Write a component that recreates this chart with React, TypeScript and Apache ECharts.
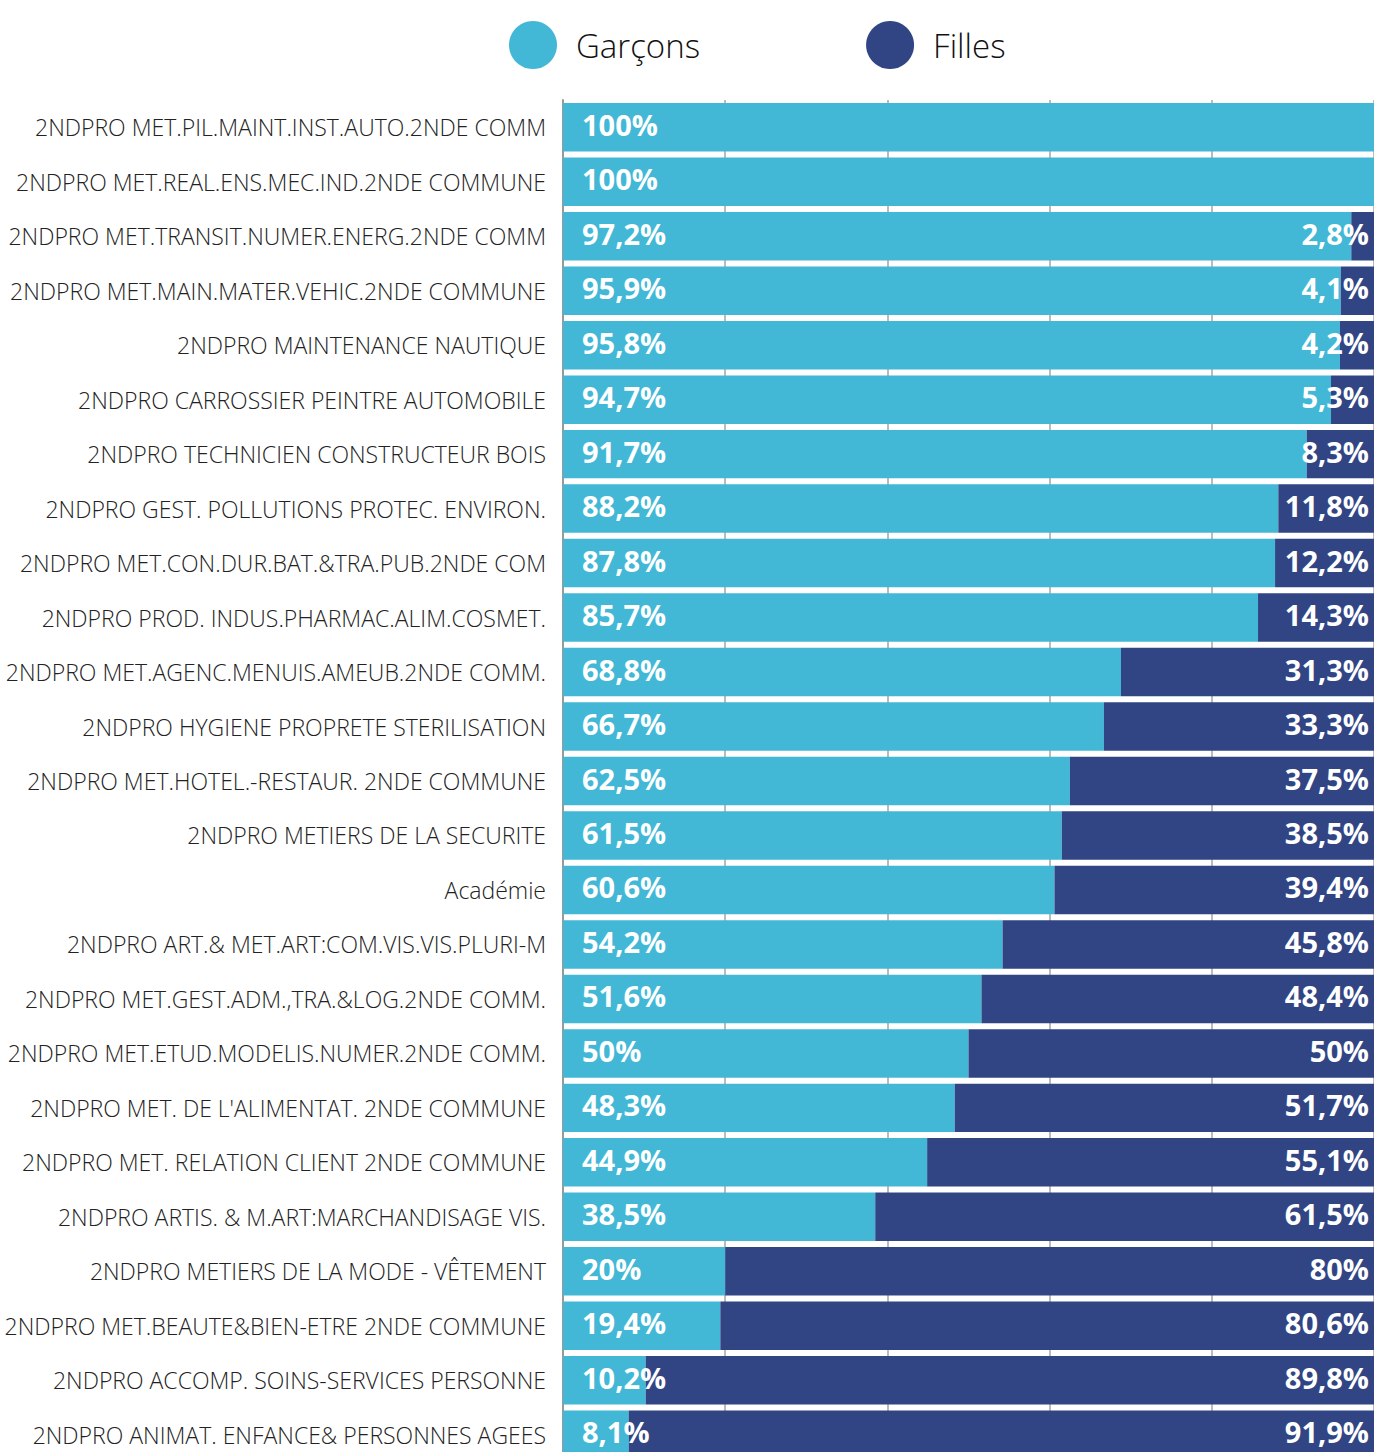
import React, { useEffect, useRef } from "react";
import * as echarts from "echarts";

const categories = [
  "2NDPRO MET.PIL.MAINT.INST.AUTO.2NDE COMM",
  "2NDPRO MET.REAL.ENS.MEC.IND.2NDE COMMUNE",
  "2NDPRO MET.TRANSIT.NUMER.ENERG.2NDE COMM",
  "2NDPRO MET.MAIN.MATER.VEHIC.2NDE COMMUNE",
  "2NDPRO MAINTENANCE NAUTIQUE",
  "2NDPRO CARROSSIER PEINTRE AUTOMOBILE",
  "2NDPRO TECHNICIEN CONSTRUCTEUR BOIS",
  "2NDPRO GEST. POLLUTIONS PROTEC. ENVIRON.",
  "2NDPRO MET.CON.DUR.BAT.&TRA.PUB.2NDE COM",
  "2NDPRO PROD. INDUS.PHARMAC.ALIM.COSMET.",
  "2NDPRO MET.AGENC.MENUIS.AMEUB.2NDE COMM.",
  "2NDPRO HYGIENE PROPRETE STERILISATION",
  "2NDPRO MET.HOTEL.-RESTAUR. 2NDE COMMUNE",
  "2NDPRO METIERS DE LA SECURITE",
  "Académie",
  "2NDPRO ART.& MET.ART:COM.VIS.VIS.PLURI-M",
  "2NDPRO MET.GEST.ADM.,TRA.&LOG.2NDE COMM.",
  "2NDPRO MET.ETUD.MODELIS.NUMER.2NDE COMM.",
  "2NDPRO MET. DE L'ALIMENTAT. 2NDE COMMUNE",
  "2NDPRO MET. RELATION CLIENT 2NDE COMMUNE",
  "2NDPRO ARTIS. & M.ART:MARCHANDISAGE VIS.",
  "2NDPRO METIERS DE LA MODE - VÊTEMENT",
  "2NDPRO MET.BEAUTE&BIEN-ETRE 2NDE COMMUNE",
  "2NDPRO ACCOMP. SOINS-SERVICES PERSONNE",
  "2NDPRO ANIMAT. ENFANCE& PERSONNES AGEES",
];

const garcons = [
  100, 100, 97.2, 95.9, 95.8, 94.7, 91.7, 88.2, 87.8, 85.7, 68.8, 66.7, 62.5,
  61.5, 60.6, 54.2, 51.6, 50, 48.3, 44.9, 38.5, 20, 19.4, 10.2, 8.1,
];

const filles = [
  0, 0, 2.8, 4.1, 4.2, 5.3, 8.3, 11.8, 12.2, 14.3, 31.3, 33.3, 37.5, 38.5,
  39.4, 45.8, 48.4, 50, 51.7, 55.1, 61.5, 80, 80.6, 89.8, 91.9,
];

const seriesNames = ["Garçons", "Filles"];
const xTicks = [0, 20, 40, 60, 80, 100];

const LIGHT = "#42B8D6";
const DARK = "#314584";

const fmt = (v: number) => (v === 0 ? "" : String(v).replace(".", ",") + "%");

export default function App() {
  const ref = useRef<HTMLDivElement>(null);
  useEffect(() => {
    if (!ref.current) return;
    const chart = echarts.init(ref.current, undefined, { renderer: "svg" });
    chart.setOption({
      animation: false,
      textStyle: { fontFamily: "Open Sans" },
      legend: {
        data: seriesNames,
        left: 504,
        top: 16,
        icon: "circle",
        itemWidth: 48,
        itemHeight: 48,
        itemGap: 166,
        textStyle: {
          fontSize: 33,
          fontWeight: 300,
          color: "#111",
          fontFamily: "Open Sans",
          padding: [0, 0, 0, 14],
        },
      },
      grid: { left: 563, right: 0, top: 100, bottom: 0, containLabel: false },
      xAxis: {
        type: "value",
        min: xTicks[0],
        max: xTicks[xTicks.length - 1],
        interval: 20,
        axisLabel: { show: false },
        axisLine: { show: false },
        axisTick: { show: false },
        splitLine: { show: true, lineStyle: { color: "#bbbbbb", width: 2 } },
      },
      yAxis: {
        type: "category",
        inverse: true,
        data: categories,
        axisLine: { show: true, lineStyle: { color: "#999999", width: 2 } },
        axisTick: { show: false },
        axisLabel: {
          fontSize: 23,
          fontWeight: 300,
          color: "#222",
          margin: 17,
          fontFamily: "Open Sans",
        },
      },
      series: [
        {
          name: seriesNames[0],
          type: "bar",
          stack: "t",
          data: garcons,
          barCategoryGap: "11%",
          itemStyle: { color: LIGHT },
          label: {
            show: true,
            position: "insideLeft",
            distance: 19,
            offset: [0, -3],
            formatter: (p: any) => fmt(p.value),
            color: "#fff",
            fontSize: 29,
            fontWeight: "bold",
            fontFamily: "Open Sans",
          },
        },
        {
          name: seriesNames[1],
          type: "bar",
          stack: "t",
          data: filles,
          itemStyle: { color: DARK },
          label: {
            show: true,
            position: "insideRight",
            distance: 5,
            offset: [0, -3],
            formatter: (p: any) => fmt(p.value),
            color: "#fff",
            fontSize: 29,
            fontWeight: "bold",
            fontFamily: "Open Sans",
          },
        },
      ],
    });
    return () => chart.dispose();
  }, []);
  return (
    <div
      style={{
        position: "fixed",
        left: 0,
        top: 0,
        width: 1374,
        height: 1452,
        overflow: "hidden",
        background: "#fff",
      }}
    >
      <div ref={ref} style={{ width: 1374, height: 1462 }} />
    </div>
  );
}
